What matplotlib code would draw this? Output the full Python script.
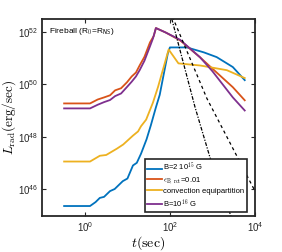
import numpy as np
import matplotlib
matplotlib.use('Agg')
import matplotlib.pyplot as plt

plt.rcParams['font.family'] = ['Liberation Sans', 'DejaVu Sans']
plt.rcParams['mathtext.fontset'] = 'cm'

# values as log10(t), log10(L)
blue_t = [-0.49, 0.12, 0.25, 0.35, 0.45, 0.59, 0.7, 0.89, 1.0, 1.13, 1.22, 1.32, 1.45, 1.55, 1.67, 1.76, 1.84, 1.95, 2.0, 2.4, 2.8, 3.1, 3.48, 3.76]
blue_L = [45.35, 45.35, 45.5, 45.66, 45.7, 45.92, 46.0, 46.3, 46.4, 46.9, 47.0, 47.35, 47.9, 48.43, 49.12, 49.6, 50.27, 51.18, 51.41, 51.41, 51.22, 51.04, 50.66, 50.16]

orange_t = [-0.49, 0.12, 0.3, 0.45, 0.59, 0.71, 0.85, 0.99, 1.1, 1.2, 1.29, 1.4, 1.53, 1.62, 1.67, 1.9, 2.24, 2.71, 3.1, 3.48, 3.76]
orange_L = [49.27, 49.27, 49.42, 49.5, 49.58, 49.77, 49.85, 50.08, 50.3, 50.45, 50.73, 51.05, 51.6, 51.85, 52.15, 51.98, 51.68, 51.03, 50.45, 49.89, 49.39]

yellow_t = [-0.49, 0.12, 0.35, 0.5, 0.75, 0.9, 1.13, 1.25, 1.32, 1.44, 1.6, 1.72, 1.9, 1.97, 2.2, 2.71, 3.34, 3.76]
yellow_L = [47.05, 47.05, 47.27, 47.3, 47.54, 47.7, 48.04, 48.2, 48.4, 48.65, 49.3, 49.9, 50.93, 51.33, 50.8, 50.72, 50.54, 50.24]

purple_t = [-0.49, 0.12, 0.3, 0.45, 0.59, 0.71, 0.85, 0.99, 1.1, 1.2, 1.29, 1.4, 1.53, 1.6, 1.67, 1.9, 2.24, 2.71, 3.0, 3.48, 3.76]
purple_L = [49.08, 49.08, 49.22, 49.32, 49.4, 49.55, 49.65, 49.9, 50.1, 50.3, 50.55, 50.9, 51.45, 51.75, 52.15, 51.98, 51.7, 51.03, 50.5, 49.5, 49.0]

steep_t = [2.0, 2.05, 2.59, 2.94, 3.36, 3.45]
steep_L = [52.8, 52.46, 49.13, 47.22, 45.31, 44.9]
dash_t = [2.0, 2.09, 2.87, 3.6, 3.95, 4.05]
dash_L = [52.8, 52.46, 49.46, 47.18, 46.08, 45.8]

labels = ['B=2 10$^{15}$ G', r'$\epsilon_{\rm B,\,rot}$=0.01', 'convection equipartition', 'B=10$^{16}$ G']
colors = ['#0072BD', '#D95319', '#EDB120', '#7E2F8E']

fig = plt.figure(figsize=(2.82, 2.52), dpi=100)
ax = fig.add_axes([0.149, 0.143, 0.755, 0.782])

series = [(blue_t, blue_L), (orange_t, orange_L), (yellow_t, yellow_L), (purple_t, purple_L)]
for (t, L), c, lab in zip(series, colors, labels):
    ax.plot(10**np.array(t), 10**np.array(L), color=c, lw=1.3, label=lab)

ax.plot(10**np.array(steep_t), 10**np.array(steep_L), color='k', lw=0.9, ls=(0, (3, 1.2, 1, 1.2)))
ax.plot(10**np.array(dash_t), 10**np.array(dash_L), color='k', lw=0.9, ls=(0, (2.5, 2.5)))

ax.set_xscale('log')
ax.set_yscale('log')
ax.set_xlim(10**-1.01, 1e4)
ax.set_ylim(10**44.97, 10**52.5)
ax.set_xticks([1, 1e2, 1e4])
ax.set_yticks([1e46, 1e48, 1e50, 1e52])
ax.minorticks_off()
ax.tick_params(direction='in', top=True, right=True, length=3, width=0.8, labelsize=7, pad=3, colors='#262626')
for s in ax.spines.values():
    s.set_linewidth(1.3)
    s.set_color('#262626')

ax.set_xlabel(r'$t({\rm sec})$', fontsize=10, labelpad=0)
ax.set_ylabel(r'$L_{\rm rad}({\rm erg/sec})$', fontsize=9.5, labelpad=0)

ax.text(0.033, 0.934, r'Fireball (R$_\mathsf{0}$=R$_\mathsf{NS}$)', transform=ax.transAxes, fontsize=6, va='center', ha='left')

leg = ax.legend(loc='lower right', bbox_to_anchor=(0.962, 0.02), fontsize=5.5, handlelength=1.9,
                handletextpad=0.2, borderpad=0.3, labelspacing=0.25, borderaxespad=0,
                fancybox=False, framealpha=1, edgecolor='#262626')
leg.get_frame().set_linewidth(1.2)

fig.savefig('out.png', dpi=100)
